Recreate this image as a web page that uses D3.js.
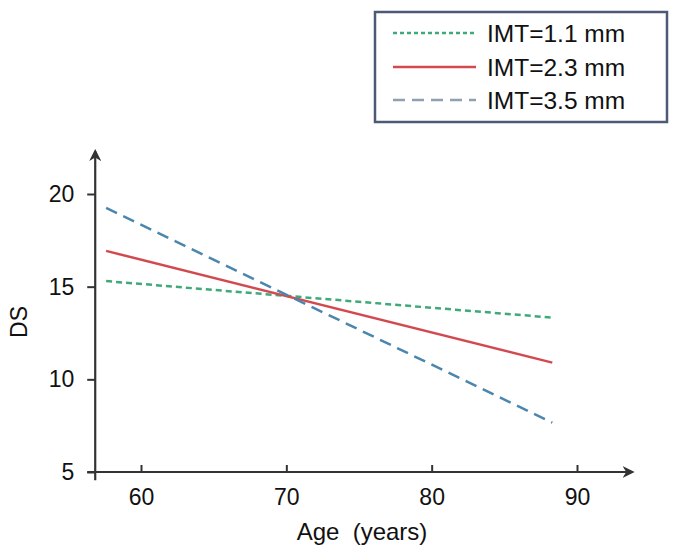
<!DOCTYPE html>
<html>
<head>
<meta charset="utf-8">
<script src="https://d3js.org/d3.v7.min.js"></script>
<style>
  body { margin: 0; background: #fff; }
  text { font-family: "Liberation Sans", Arial, sans-serif; fill: #111; }
</style>
</head>
<body>
<div id="chart"></div>
<script>
// data
var ages = [57.6, 88.3];
var seriesNames = ["IMT=1.1 mm", "IMT=2.3 mm", "IMT=3.5 mm"];
var ds_imt11 = [15.3, 13.33];
var ds_imt23 = [16.93, 10.9];
var ds_imt35 = [19.25, 7.66];
var xTicks = [60, 70, 80, 90];
var yTicks = [5, 10, 15, 20];

var colors = ["#3fa979", "#d24a4f", "#4a86ad"];
var dashes = ["6,4", null, "12,7"];
var allSeries = [ds_imt11, ds_imt23, ds_imt35];

var width = 679, height = 553;

var svg = d3.select("#chart")
  .append("svg")
  .attr("width", width)
  .attr("height", height);

var x = d3.scaleLinear().domain([60, 90]).range([141, 577]);
var y = d3.scaleLinear().domain([5, 20]).range([472, 194]);

var axisColor = "#333";

// arrow head
svg.append("defs").append("marker")
  .attr("id", "arrow")
  .attr("viewBox", "0 0 10 10")
  .attr("refX", 8).attr("refY", 5)
  .attr("markerWidth", 5.5).attr("markerHeight", 5.5)
  .attr("markerUnits", "strokeWidth")
  .attr("orient", "auto")
  .append("path")
  .attr("d", "M0,0 L10,5 L0,10 L3,5 Z")
  .attr("fill", axisColor);

//x axis ticks (pointing up) and labels
var gx = svg.append("g")
  .attr("transform", "translate(0," + y(5) + ")")
  .call(d3.axisBottom(x).tickValues(xTicks).tickSizeInner(-7).tickSizeOuter(0).tickPadding(17));
gx.select(".domain").remove();
gx.selectAll("line").attr("stroke", axisColor).attr("stroke-width", 2);
gx.selectAll("text").style("font-size", "23px").attr("fill", "#111");

//y axis ticks (pointing left) and labels
var gy = svg.append("g")
  .attr("transform", "translate(" + x(56.85) + ",0)")
  .call(d3.axisLeft(y).tickValues(yTicks).tickSizeInner(8).tickSizeOuter(0).tickPadding(13));
gy.select(".domain").remove();
gy.selectAll("line").attr("stroke", axisColor).attr("stroke-width", 2);
gy.selectAll("text").style("font-size", "23px").attr("fill", "#111");

//axis lines with arrows
svg.append("line")
  .attr("x1", x(56.3)).attr("y1", y(5))
  .attr("x2", x(93.8)).attr("y2", y(5))
  .attr("stroke", axisColor).attr("stroke-width", 2.2)
  .attr("marker-end", "url(#arrow)");
svg.append("line")
  .attr("x1", x(56.85)).attr("y1", y(4.55))
  .attr("x2", x(56.85)).attr("y2", y(22.3))
  .attr("stroke", axisColor).attr("stroke-width", 2.2)
  .attr("marker-end", "url(#arrow)");

//axis titles
svg.append("text")
  .attr("x", 362).attr("y", 540)
  .attr("text-anchor", "middle")
  .style("font-size", "24px")
  .style("white-space", "pre")
  .text("Age  (years)");

svg.append("text")
  .attr("transform", "translate(27,322) rotate(-90)")
  .attr("text-anchor", "middle")
  .style("font-size", "23px")
  .text("DS");

//series lines
var line = d3.line()
  .x(function(d, i) { return x(ages[i]); })
  .y(function(d) { return y(d); });

allSeries.forEach(function(s, i) {
  svg.append("path")
    .datum(s)
    .attr("d", line)
    .attr("fill", "none")
    .attr("stroke", colors[i])
    .attr("stroke-width", 2.5)
    .attr("stroke-dasharray", dashes[i]);
});

//legend
var legend = svg.append("g");
legend.append("rect")
  .attr("x", 375).attr("y", 12)
  .attr("width", 292).attr("height", 110)
  .attr("fill", "#fff")
  .attr("stroke", "#4c5a78")
  .attr("stroke-width", 2.5);

var legendY = [33, 67, 100];
seriesNames.forEach(function(name, i) {
  legend.append("line")
    .attr("x1", 393).attr("x2", 476)
    .attr("y1", legendY[i]).attr("y2", legendY[i])
    .attr("stroke", i == 2 ? "#8fa0b4" : colors[i])
    .attr("stroke-width", 2.5)
    .attr("stroke-dasharray", i == 0 ? "4,3" : dashes[i]);
  legend.append("text")
    .attr("x", 487).attr("y", legendY[i])
    .attr("dy", "0.35em")
    .style("font-size", "24.5px")
    .text(name);
});
</script>
</body>
</html>
